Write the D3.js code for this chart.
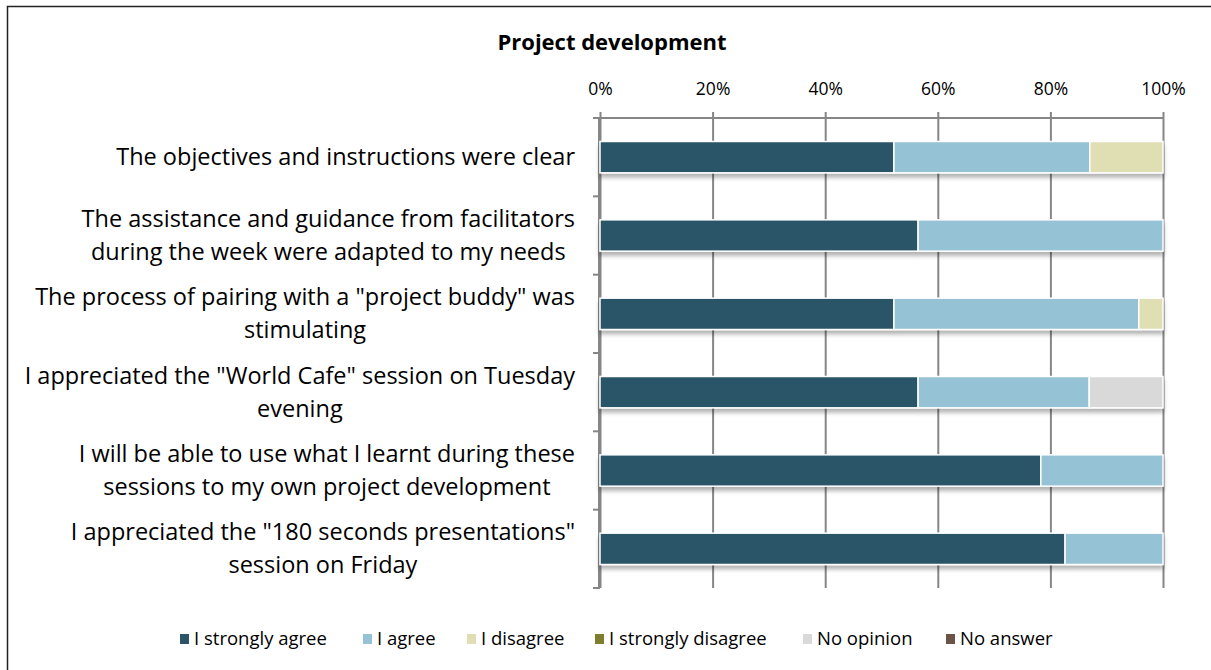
<!DOCTYPE html>
<html>
<head>
<meta charset="utf-8">
<script src="https://cdn.jsdelivr.net/npm/d3@7"></script>
<style>
  body { margin: 0; background: #fff; }
  svg { display: block; font-family: "Open Sans", Lato, sans-serif; }
</style>
</head>
<body>
<div id="chart"></div>
<script>
// survey categories, top to bottom (each line of a label is its own entry)
const categories = [
  ['The objectives and instructions were clear'],
  ['The assistance and guidance from facilitators', 'during the week were adapted to my needs'],
  ['The process of pairing with a "project buddy" was', 'stimulating'],
  ['I appreciated the "World Cafe" session on Tuesday', 'evening'],
  ['I will be able to use what I learnt during these', 'sessions to my own project development'],
  ['I appreciated the "180 seconds presentations"', 'session on Friday']
]

const seriesNames = ['I strongly agree', 'I agree', 'I disagree', 'I strongly disagree', 'No opinion', 'No answer']
const seriesColors = ['#2b5468', '#95c2d5', '#e0dfb4', '#7e7e2e', '#d9d9d9', '#6b5345']

// percentages per series, one value per category
const stronglyAgree = [52.2, 56.5, 52.2, 56.5, 78.3, 82.6]
const agree = [34.8, 43.5, 43.5, 30.4, 21.7, 17.4]
const disagree = [13.0, 0, 4.3, 0, 0, 0]
const stronglyDisagree = [0, 0, 0, 0, 0, 0]
const noOpinion = [0, 0, 0, 13.1, 0, 0]
const noAnswer = [0, 0, 0, 0, 0, 0]

const tickValues = [0, 20, 40, 60, 80, 100]

const W = 1211, H = 670
const svg = d3.select('#chart').append('svg').attr('width', W).attr('height', H)

// outer frame (right / bottom sides run off the picture)
svg.append('rect')
  .attr('x', 7.5).attr('y', 6.5).attr('width', 1210).attr('height', 670)
  .attr('fill', 'none').attr('stroke', '#222').attr('stroke-width', 1.5)

const defs = svg.append('defs')
const f = defs.append('filter').attr('id', 'shadow')
  .attr('x', '-5%').attr('y', '-40%').attr('width', '110%').attr('height', '200%')
f.append('feDropShadow').attr('dx', 0).attr('dy', 4).attr('stdDeviation', 2.2)
  .attr('flood-color', '#000').attr('flood-opacity', 0.3)

const plotL = 600, plotR = 1163, plotT = 118, plotB = 588

const x = d3.scaleLinear().domain([0, 100]).range([plotL, plotR])
const keys = categories.map((c, i) => i)
const y = d3.scaleBand().domain(keys).range([plotT, plotB]).paddingInner(0.6).paddingOuter(0.3)

svg.append('text')
  .attr('x', 612).attr('y', 50)
  .attr('text-anchor', 'middle')
  .attr('font-weight', 'bold').attr('font-size', 22).attr('fill', '#000')
  .text('Project development')

// gridlines + top axis
const xAxis = d3.axisTop(x).tickValues(tickValues).tickFormat(d => d + '%')
  .tickSizeOuter(0).tickPadding(0)
const gx = svg.append('g').attr('transform', `translate(0,${plotT - 6})`).call(xAxis)
gx.select('.domain').remove()
gx.selectAll('.tick line').attr('stroke', '#868686').attr('stroke-width', 2)
  .attr('y1', 0).attr('y2', plotB - plotT + 6)
gx.selectAll('.tick text').attr('y', -17).attr('font-size', 17.5).attr('fill', '#000')
  .attr('font-family', '"Open Sans", sans-serif')

svg.append('line')
  .attr('x1', plotL - 7).attr('x2', plotR).attr('y1', plotT).attr('y2', plotT)
  .attr('stroke', '#868686').attr('stroke-width', 2)

// left axis with band-boundary ticks
svg.append('line')
  .attr('x1', plotL - 1).attr('x2', plotL - 1).attr('y1', plotT).attr('y2', plotB)
  .attr('stroke', '#868686').attr('stroke-width', 2)
const bounds = keys.map(k => y(k) - y.step() * y.paddingInner() / 2).concat([plotB])
svg.selectAll('.ytick').data(bounds).join('line')
  .attr('x1', plotL - 7).attr('x2', plotL).attr('y1', d => d).attr('y2', d => d)
  .attr('stroke', '#868686').attr('stroke-width', 2)

// stacked bars
const seriesVals = [stronglyAgree, agree, disagree, stronglyDisagree, noOpinion, noAnswer]
const rows = keys.map(i => {
  const r = { key: i }
  seriesNames.forEach((s, j) => { r[s] = seriesVals[j][i] })
  return r
})
const stacked = d3.stack().keys(seriesNames)(rows)

const rowG = svg.append('g').selectAll('g').data(rows).join('g').attr('filter', 'url(#shadow)')
rowG.selectAll('rect')
  .data(r => stacked.map((s, j) => ({ s: s[r.key], color: seriesColors[j], key: r.key }))
    .filter(d => d.s[1] - d.s[0] > 0))
  .join('rect')
  .attr('x', d => x(d.s[0]))
  .attr('width', d => x(d.s[1]) - x(d.s[0]))
  .attr('y', d => y(d.key))
  .attr('height', y.bandwidth())
  .attr('fill', d => d.color)
  .attr('stroke', '#fff').attr('stroke-width', 1.5)

// category labels: each block right-aligned, lines centred inside it
const labelRight = 575, lineH = 33
categories.forEach((lines, i) => {
  const cy = y(i) + y.bandwidth() / 2
  const g = svg.append('g')
  const texts = lines.map((l, k) => g.append('text')
    .attr('font-size', 23.5).attr('fill', '#000')
    .attr('text-anchor', 'middle')
    .attr('y', cy + (k - (lines.length - 1) / 2) * lineH + 8)
    .text(l))
  const maxW = d3.max(texts, t => t.node().getComputedTextLength())
  texts.forEach(t => t.attr('x', labelRight - maxW / 2))
})

// legend
const legendX = [180, 363, 467, 595, 803, 946]
const lg = svg.append('g').selectAll('g').data(seriesNames).join('g')
  .attr('transform', (d, i) => `translate(${legendX[i]},639)`)
lg.append('rect').attr('x', 0).attr('y', -5).attr('width', 9).attr('height', 10)
  .attr('fill', (d, i) => seriesColors[i])
lg.append('text').attr('x', 14).attr('y', 6).attr('font-size', 18.5).attr('fill', '#000').text(d => d)
</script>
</body>
</html>
